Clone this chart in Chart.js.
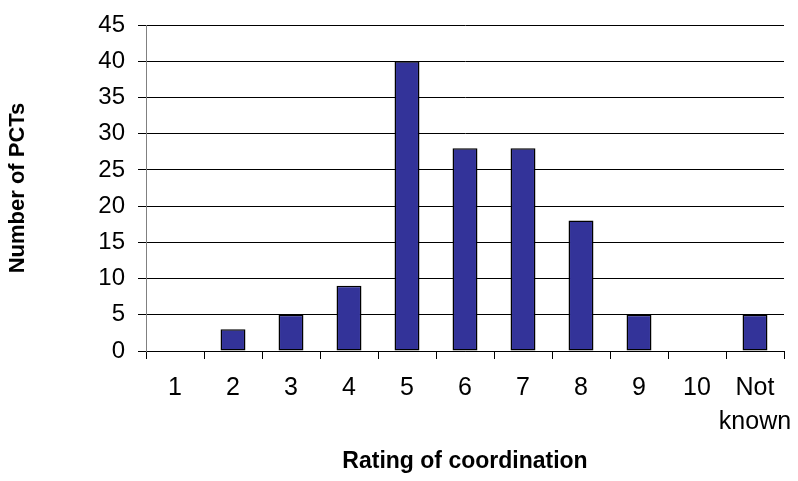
<!DOCTYPE html>
<html>
<head>
<meta charset="utf-8">
<script src="https://cdn.jsdelivr.net/npm/chart.js@4/dist/chart.umd.min.js"></script>
<style>
  html, body { margin: 0; padding: 0; background: #ffffff; }
  #wrap { width: 798px; height: 481px; }
</style>
</head>
<body>
<div id="wrap"><canvas id="chart" width="798" height="481"></canvas></div>
<script>
// Ratings (1-10 plus unknown) and how many PCTs gave each
const categories = ['1', '2', '3', '4', '5', '6', '7', '8', '9', '10', ['Not', 'known']];
const pctCounts = [0, 3, 5, 9, 40, 28, 28, 18, 5, 0, 5];
const yTicks = [0, 5, 10, 15, 20, 25, 30, 35, 40, 45];

const xTitle = 'Rating of coordination';
const yTitle = 'Number of PCTs';

const FONT = '"Liberation Sans", Arial, sans-serif';

new Chart(document.getElementById('chart'), {
  type: 'bar',
  data: {
    labels: categories,
    datasets: [{
      data: pctCounts,
      backgroundColor: '#333399',
      borderColor: '#000000',
      borderWidth: 1.5,
      borderSkipped: false,
      barPercentage: 0.43,
      categoryPercentage: 1.0
    }]
  },
  options: {
    responsive: false,
    animation: false,
    layout: { padding: { top: 25, right: 14, left: 0, bottom: 0 } },
    plugins: {
      legend: { display: false },
      tooltip: { enabled: false }
    },
    scales: {
      x: {
        offset: true,
        grid: {
          offset: true,
          drawOnChartArea: false,
          drawTicks: true,
          tickLength: 8,
          color: '#000000',
          lineWidth: 1
        },
        border: { display: true, color: '#000000', width: 1 },
        ticks: {
          color: '#000000',
          padding: 12,
          maxRotation: 0,
          autoSkip: false,
          font: { family: FONT, size: 25, lineHeight: 1.36 }
        },
        title: {
          display: true,
          text: xTitle,
          color: '#000000',
          font: { family: FONT, size: 23, weight: 'bold', lineHeight: 1.2 },
          padding: { top: 0, bottom: 6 }
        },
        afterFit: (scale) => {
          scale.height = 130;
          // keep the wide last label from shrinking the plot area
          scale.paddingLeft = 0;
          scale.paddingRight = 0;
        }
      },
      y: {
        min: 0,
        max: 45,
        afterBuildTicks: (scale) => { scale.ticks = yTicks.map(v => ({ value: v })); },
        grid: {
          color: '#000000',
          lineWidth: 1,
          drawTicks: true,
          tickLength: 8
        },
        border: { display: true, color: '#808080', width: 1 },
        ticks: {
          color: '#000000',
          padding: 13,
          font: { family: FONT, size: 24, lineHeight: 1.2 }
        },
        title: {
          display: true,
          text: yTitle,
          color: '#000000',
          font: { family: FONT, size: 22, weight: 'bold', lineHeight: 1.2 },
          padding: { top: 5, bottom: 0 }
        },
        afterFit: (scale) => {
          scale.width = 146;
          scale.paddingTop = 0;
          scale.paddingBottom = 0;
        }
      }
    }
  }
});
</script>
</body>
</html>
